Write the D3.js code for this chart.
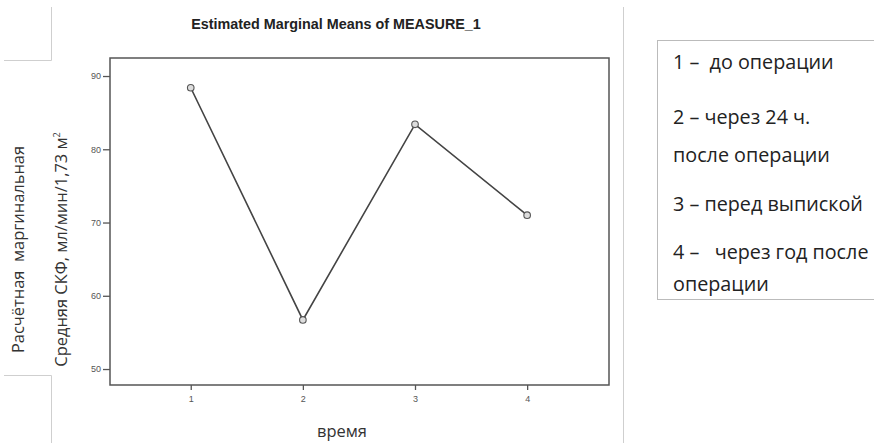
<!DOCTYPE html>
<html>
<head>
<meta charset="utf-8">
<script src="https://cdn.jsdelivr.net/npm/d3@7"></script>
<style>
  body { margin: 0; background: #fff; }
  svg { display: block; }
  text { white-space: pre; }
</style>
</head>
<body>
<div id="chart"></div>
<script>
// data
var timePoints = [1, 2, 3, 4]
var meanValues = [88.4, 56.7, 83.4, 71.0]
var yTicks = [50, 60, 70, 80, 90]
var titleText = 'Estimated Marginal Means of MEASURE_1'
var xLabel = 'время'
var yLabelLines = ['Расчётная  маргинальная', 'Средняя СКФ, мл/мин/1,73 м']
var legendLines = ['1 –  до операции', '2 – через 24 ч.', 'после операции',
                   '3 – перед выпиской', '4 –   через год после', 'операции']

var width = 874, height = 443
var svg = d3.select('#chart').append('svg')
  .attr('width', width)
  .attr('height', height)

// scale a text's font-size so that its width matches the target
function fit(sel, target) {
  var w = sel.node().getComputedTextLength()
  var fs = parseFloat(sel.style('font-size'))
  sel.style('font-size', (fs * target / w) + 'px')
}

// decorative page lines
var deco = svg.append('g').attr('stroke', '#cfcfcf').attr('fill', 'none').attr('stroke-width', 1)
deco.append('path').attr('d', 'M51.5,7 V60.5 H4')
deco.append('path').attr('d', 'M4,375.5 H51.5 V443')
deco.append('path').attr('d', 'M623.5,7 V443')

// plot area
var frame = { left: 110, right: 609, top: 58, bottom: 385 }
var x = d3.scaleLinear().domain([0.28, 4.73]).range([frame.left, frame.right])
var y = d3.scaleLinear().domain([47.82, 92.46]).range([frame.bottom, frame.top])

svg.append('text')
  .attr('x', 336).attr('y', 29)
  .attr('text-anchor', 'middle')
  .style('font-family', 'Liberation Sans, Arial, sans-serif')
  .style('font-weight', 'bold')
  .style('font-size', '12px')
  .style('fill', '#222')
  .text(titleText)
  .call(fit, 290)

var yAxis = svg.append('g')
  .attr('transform', 'translate(' + frame.left + ',0)')
  .call(d3.axisLeft(y).tickValues(yTicks).tickSize(7).tickPadding(2))
var xAxis = svg.append('g')
  .attr('transform', 'translate(0,' + frame.bottom + ')')
  .call(d3.axisBottom(x).tickValues(timePoints).tickSize(5).tickPadding(6).tickFormat(d3.format('d')))

;[yAxis, xAxis].forEach(function(ax) {
  ax.select('.domain').remove()
  ax.selectAll('.tick line').attr('stroke', '#555').attr('stroke-width', 1.3)
  ax.selectAll('.tick text')
    .style('font-family', 'Liberation Sans, Arial, sans-serif')
    .style('font-size', '9px')
    .attr('fill', '#555')
})

svg.append('rect')
  .attr('x', frame.left).attr('y', frame.top)
  .attr('width', frame.right - frame.left)
  .attr('height', frame.bottom - frame.top)
  .attr('fill', 'none')
  .attr('stroke', '#555')
  .attr('stroke-width', 1.5)

var points = timePoints.map(function(t, i) { return [t, meanValues[i]] })
var line = d3.line()
  .x(function(d) { return x(d[0]) })
  .y(function(d) { return y(d[1]) })

svg.append('path')
  .datum(points)
  .attr('d', line)
  .attr('fill', 'none')
  .attr('stroke', '#444')
  .attr('stroke-width', 1.6)

svg.selectAll('.marker')
  .data(points)
  .enter().append('circle')
  .attr('class', 'marker')
  .attr('cx', function(d) { return x(d[0]) })
  .attr('cy', function(d) { return y(d[1]) })
  .attr('r', 3.3)
  .attr('fill', '#ddd')
  .attr('stroke', '#555')
  .attr('stroke-width', 1.1)

// axis titles
var humanFont = 'Open Sans, Noto Sans, sans-serif'
svg.append('text')
  .attr('x', 342).attr('y', 437)
  .attr('text-anchor', 'middle')
  .style('font-family', humanFont)
  .style('font-size', '17px')
  .style('fill', '#333')
  .text(xLabel)
  .call(fit, 50)

// y title: both lines share the size fitted on the second one
var yLabelX = [24, 67]
var yLabels = yLabelLines.map(function(txt, i) {
  var t = svg.append('text')
    .attr('transform', 'translate(' + yLabelX[i] + ',249.5) rotate(-90)')
    .attr('text-anchor', 'middle')
    .style('font-family', humanFont)
    .style('font-size', '15px')
    .style('fill', '#333')
  t.append('tspan').text(txt)
  if (i === 1) {
    t.append('tspan').attr('dy', -7).style('font-size', '9px').text('2')
  }
  return t
})
yLabels[1].call(fit, 235)
yLabels[1].select('tspan:last-child').style('font-size', '9px')
yLabels[0].style('font-size', yLabels[1].style('font-size'))

// legend box
svg.append('rect')
  .attr('x', 657.5).attr('y', 40.5)
  .attr('width', 230).attr('height', 259)
  .attr('fill', '#fff')
  .attr('stroke', '#bbb')
  .attr('stroke-width', 1)

var legendY = [69, 124, 162, 211, 259, 291]
var legendText = svg.selectAll('.legend')
  .data(legendLines)
  .enter().append('text')
  .attr('class', 'legend')
  .attr('x', 673)
  .attr('y', function(d, i) { return legendY[i] })
  .style('font-family', humanFont)
  .style('font-size', '16px')
  .style('fill', '#222')
  .text(function(d) { return d })

// size all legend lines from the longest one
var probe = legendText.filter(function(d, i) { return i === 3 })
probe.call(fit, 190)
legendText.style('font-size', probe.style('font-size'))
</script>
</body>
</html>
